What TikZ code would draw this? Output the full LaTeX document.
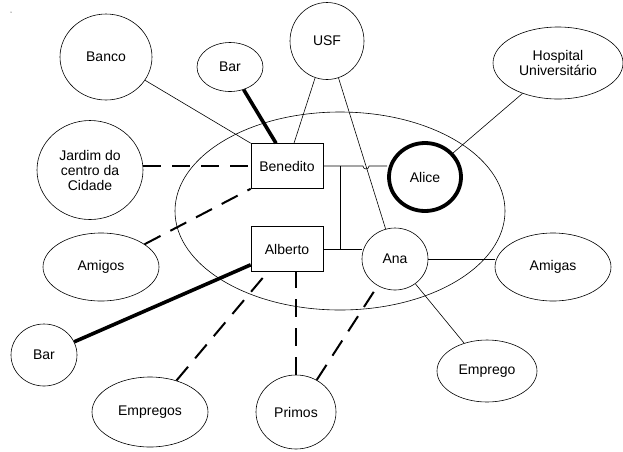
\documentclass[tikz,border=0pt]{standalone}
\usepackage{fontspec}
\setmainfont{Liberation Sans}
\usetikzlibrary{shapes.geometric}

\tikzset{
	lugar/.style={draw, ellipse, line width=0.6pt, inner sep=0pt, align=center},
	pessoa/.style={draw, rectangle, line width=0.6pt, minimum width=72pt, minimum height=45pt},
	fraco/.style={line width=0.6pt},
	forte/.style={line width=3.6pt},
	tenue/.style={line width=2pt, dash pattern=on 18pt off 11pt},
}

\begin{document}
\begin{tikzpicture}[x=1pt, y=-1pt, font=\fontsize{14}{15}\selectfont]
	\useasboundingbox (0, 0) rectangle (623, 451);
	\node[lugar, minimum width=330pt, minimum height=198pt] (rede) at (340, 211) {};
	\fill (11, 12) circle (0.5pt);
	\node[lugar, minimum width=92pt, minimum height=86pt] (banco) at (106, 57) {Banco};
	\node[lugar, minimum width=66pt, minimum height=49pt] (barb) at (230, 67) {Bar};
	\node[lugar, minimum width=74pt, minimum height=77pt] (usf) at (327, 41) {USF};
	\node[lugar, minimum width=130pt, minimum height=72pt] (hosp) at (558, 63) {Hospital\\Universitário};
	\node[lugar, minimum width=106pt, minimum height=99pt] (jardim) at (90, 170) {Jardim do\\centro da\\Cidade};
	\node[pessoa] (bene) at (287, 166) {Benedito};
	\node[lugar, line width=3.8pt, minimum width=72pt, minimum height=68pt] (alice) at (425, 177) {Alice};
	\node[lugar, minimum width=116pt, minimum height=68pt] (amigos) at (101, 267) {Amigos};
	\node[pessoa] (alb) at (287, 249) {Alberto};
	\node[lugar, minimum width=66pt, minimum height=62pt] (ana) at (395, 259) {Ana};
	\node[lugar, minimum width=116pt, minimum height=68pt] (amigas) at (553, 267) {Amigas};
	\node[lugar, minimum width=66pt, minimum height=62pt] (bara) at (44, 355) {Bar};
	\node[lugar, minimum width=116pt, minimum height=70pt] (emps) at (150, 412) {Empregos};
	\node[lugar, minimum width=80pt, minimum height=74pt] (primos) at (296, 412) {Primos};
	\node[lugar, minimum width=100pt, minimum height=62pt] (emprego) at (487, 371) {Emprego};

	% Benedito
	\draw[fraco] (banco) -- (bene.north west);
	\draw[forte] (barb) -- ([xshift=-11pt]bene.north);
	\draw[fraco] (usf) -- ([xshift=7pt]bene.north);
	\draw[tenue] (jardim.east |- bene.west) -- (bene.west);
	\draw[tenue] (amigos) -- (bene.south west);
	\draw[fraco] (bene.east) -- (363, 166) arc[start angle=180, end angle=0, radius=3] -- (bene.east -| alice.west);
	\draw[fraco] ([xshift=17pt]bene.east) -- ([xshift=17pt]alb.east);
	% Alice e Ana
	\draw[fraco] (hosp) -- (alice);
	\draw[fraco] (usf) -- (ana);
	\draw[fraco] (ana.east) -- (ana.east -| amigas.west);
	\draw[fraco] (ana) -- (emprego);
	% Alberto
	\draw[fraco] (alb.east) -- (alb.east -| ana.west);
	\draw[forte] (bara) -- ([yshift=7pt]alb.south west);
	\draw[tenue] (emps) -- (alb);
	\draw[tenue] (primos.north) -- (primos.north |- alb.south);
	\draw[tenue] (primos) -- (ana);
\end{tikzpicture}
\end{document}
